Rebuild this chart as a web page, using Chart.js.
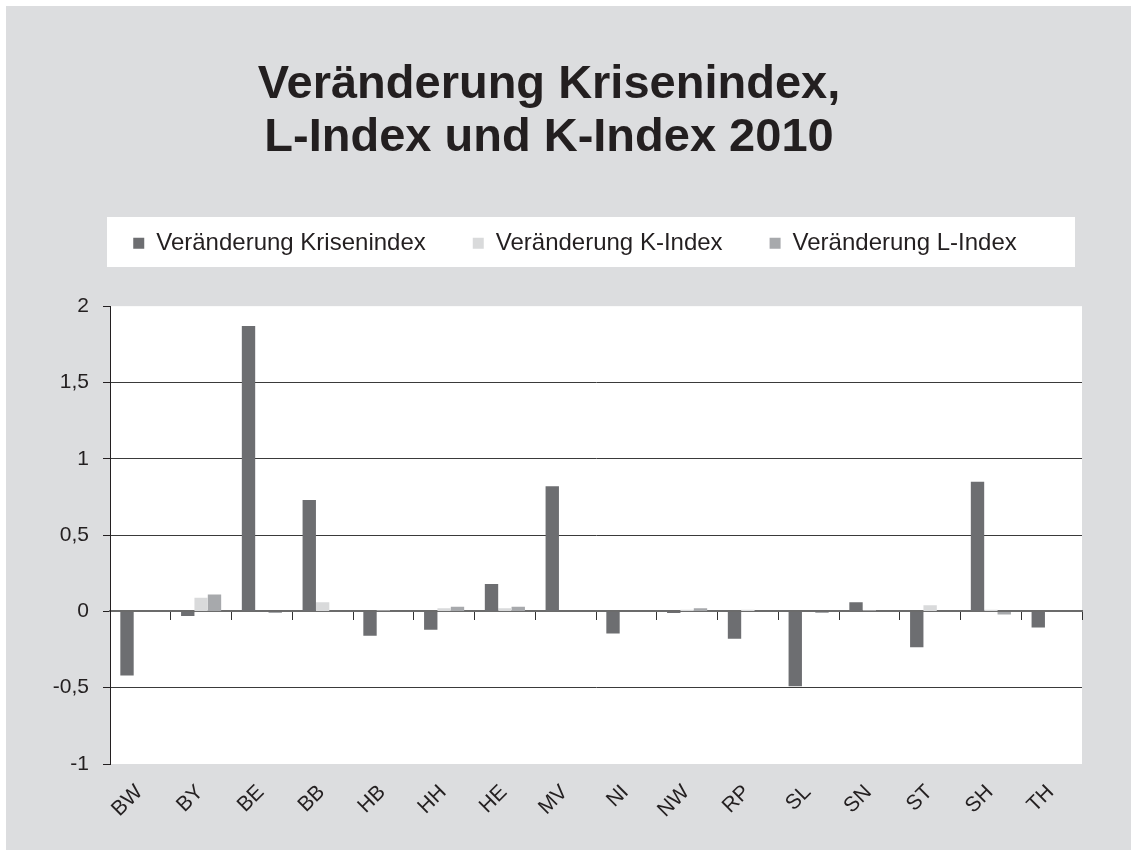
<!DOCTYPE html>
<html>
<head>
<meta charset="utf-8">
<script src="https://cdn.jsdelivr.net/npm/chart.js@4.4.1/dist/chart.umd.min.js"></script>
<style>
  html, body { margin: 0; padding: 0; background: #ffffff; }
  #wrap { width: 1137px; height: 856px; }
</style>
</head>
<body>
<div id="wrap"><canvas id="myChart" width="1137" height="856"></canvas></div>
<script>
// Bundesländer
const labels = ['BW', 'BY', 'BE', 'BB', 'HB', 'HH', 'HE', 'MV', 'NI', 'NW', 'RP', 'SL', 'SN', 'ST', 'SH', 'TH'];

// values
const krisenindex = [-0.42, -0.03, 1.87, 0.73, -0.16, -0.12, 0.18, 0.82, -0.145, -0.01, -0.18, -0.49, 0.06, -0.235, 0.85, -0.105];
const kIndex      = [0, 0.09, 0, 0.06, 0.005, 0.02, 0.02, 0, 0, 0.01, 0.01, 0, 0.005, 0.04, 0.01, 0];
const lIndex      = [0, 0.11, -0.01, 0, 0, 0.03, 0.03, 0, 0, 0.02, 0, -0.01, 0, 0, -0.02, 0];

const yTicks = [-1, -0.5, 0, 0.5, 1, 1.5, 2];

const renderChart = () => {
    Chart.defaults.font.family = "'Liberation Sans', Arial, sans-serif";
    Chart.defaults.color = '#231f20';

    // gray chart area, white legend box and white plot area
    const backdrop = {
        id: 'backdrop',
        beforeDraw(chart) {
            const c = chart.ctx;
            const a = chart.chartArea;
            c.save();
            c.fillStyle = '#ffffff';
            c.fillRect(0, 0, chart.width, chart.height);
            c.fillStyle = '#dcdddf';
            c.fillRect(6, 6, chart.width - 12, chart.height - 12);
            c.fillStyle = '#ffffff';
            c.fillRect(107, 217, 968, 50);
            c.fillRect(a.left, a.top, a.right - a.left, a.bottom - a.top);
            c.restore();
        }
    };

    // some room between legend and plot
    const legendMargin = {
        id: 'legendMargin',
        beforeInit(chart) {
            const fit = chart.legend.fit;
            chart.legend.fit = function () {
                fit.bind(chart.legend)();
                this.height += 41;
            };
        },
        // title sits a bit left, legend a bit right in the original
        afterLayout(chart) {
            chart.titleBlock.left -= 11;
            chart.titleBlock.right -= 11;
            chart.legend.left += 15;
            chart.legend.right += 15;
        }
    };

    const ctx = document.getElementById('myChart').getContext('2d');
    const chart = new Chart(ctx, {
        type: 'bar',
        data: {
            labels: labels,
            datasets: [{
                label: 'Veränderung Krisenindex',
                backgroundColor: '#6d6e71',
                data: krisenindex
            }, {
                label: 'Veränderung K-Index',
                backgroundColor: '#d9dadb',
                data: kIndex
            }, {
                label: 'Veränderung L-Index',
                backgroundColor: '#a7a9ac',
                data: lIndex
            }]
        },
        options: {
            responsive: false,
            animation: false,
            events: [],
            categoryPercentage: 0.66,
            barPercentage: 1,
            layout: { padding: { left: 38, right: 55, top: 0, bottom: 0 } },
            plugins: {
                tooltip: { enabled: false },
                title: {
                    display: true,
                    text: ['Veränderung Krisenindex,', 'L-Index und K-Index 2010'],
                    color: '#231f20',
                    font: { size: 47, weight: 'bold', lineHeight: 1.14 },
                    padding: { top: 58, bottom: 19 }
                },
                legend: {
                    labels: {
                        boxWidth: 11,
                        boxHeight: 11,
                        padding: 47,
                        color: '#231f20',
                        font: { size: 24 }
                    }
                }
            },
            scales: {
                x: {
                    grid: { display: false },
                    border: { display: false },
                    ticks: {
                        maxRotation: 45,
                        minRotation: 45,
                        padding: 8,
                        labelOffset: -1,
                        color: '#231f20',
                        font: { size: 21 }
                    },
                    afterFit: (scale) => { scale.height = 92; }
                },
                // category axis drawn through zero, like the original
                xz: {
                    type: 'category',
                    position: { y: 0 },
                    offset: true,
                    grid: { offset: true, drawOnChartArea: false, tickLength: 8, color: '#333333' },
                    border: { display: true, color: '#6b6b6b', width: 2 },
                    ticks: { display: false }
                },
                y: {
                    min: -1,
                    max: 2,
                    afterBuildTicks: (scale) => {
                        scale.ticks = yTicks.map(v => ({ value: v }));
                    },
                    grid: {
                        color: (c) => {
                            const v = c.tick ? c.tick.value : null;
                            return (v === 2 || v === -1 || v === 0) ? 'rgba(0,0,0,0)' : '#3a3a3a';
                        },
                        tickColor: '#231f20',
                        tickLength: 7,
                        lineWidth: 1
                    },
                    border: { display: true, color: '#231f20', width: 1 },
                    ticks: {
                        padding: 14,
                        color: '#231f20',
                        font: { size: 21 },
                        callback: (v) => String(v).replace('.', ',')
                    },
                    afterFit: (scale) => { scale.width = 72; }
                }
            }
        },
        plugins: [backdrop, legendMargin]
    });
    return chart;
};

renderChart();
</script>
</body>
</html>
